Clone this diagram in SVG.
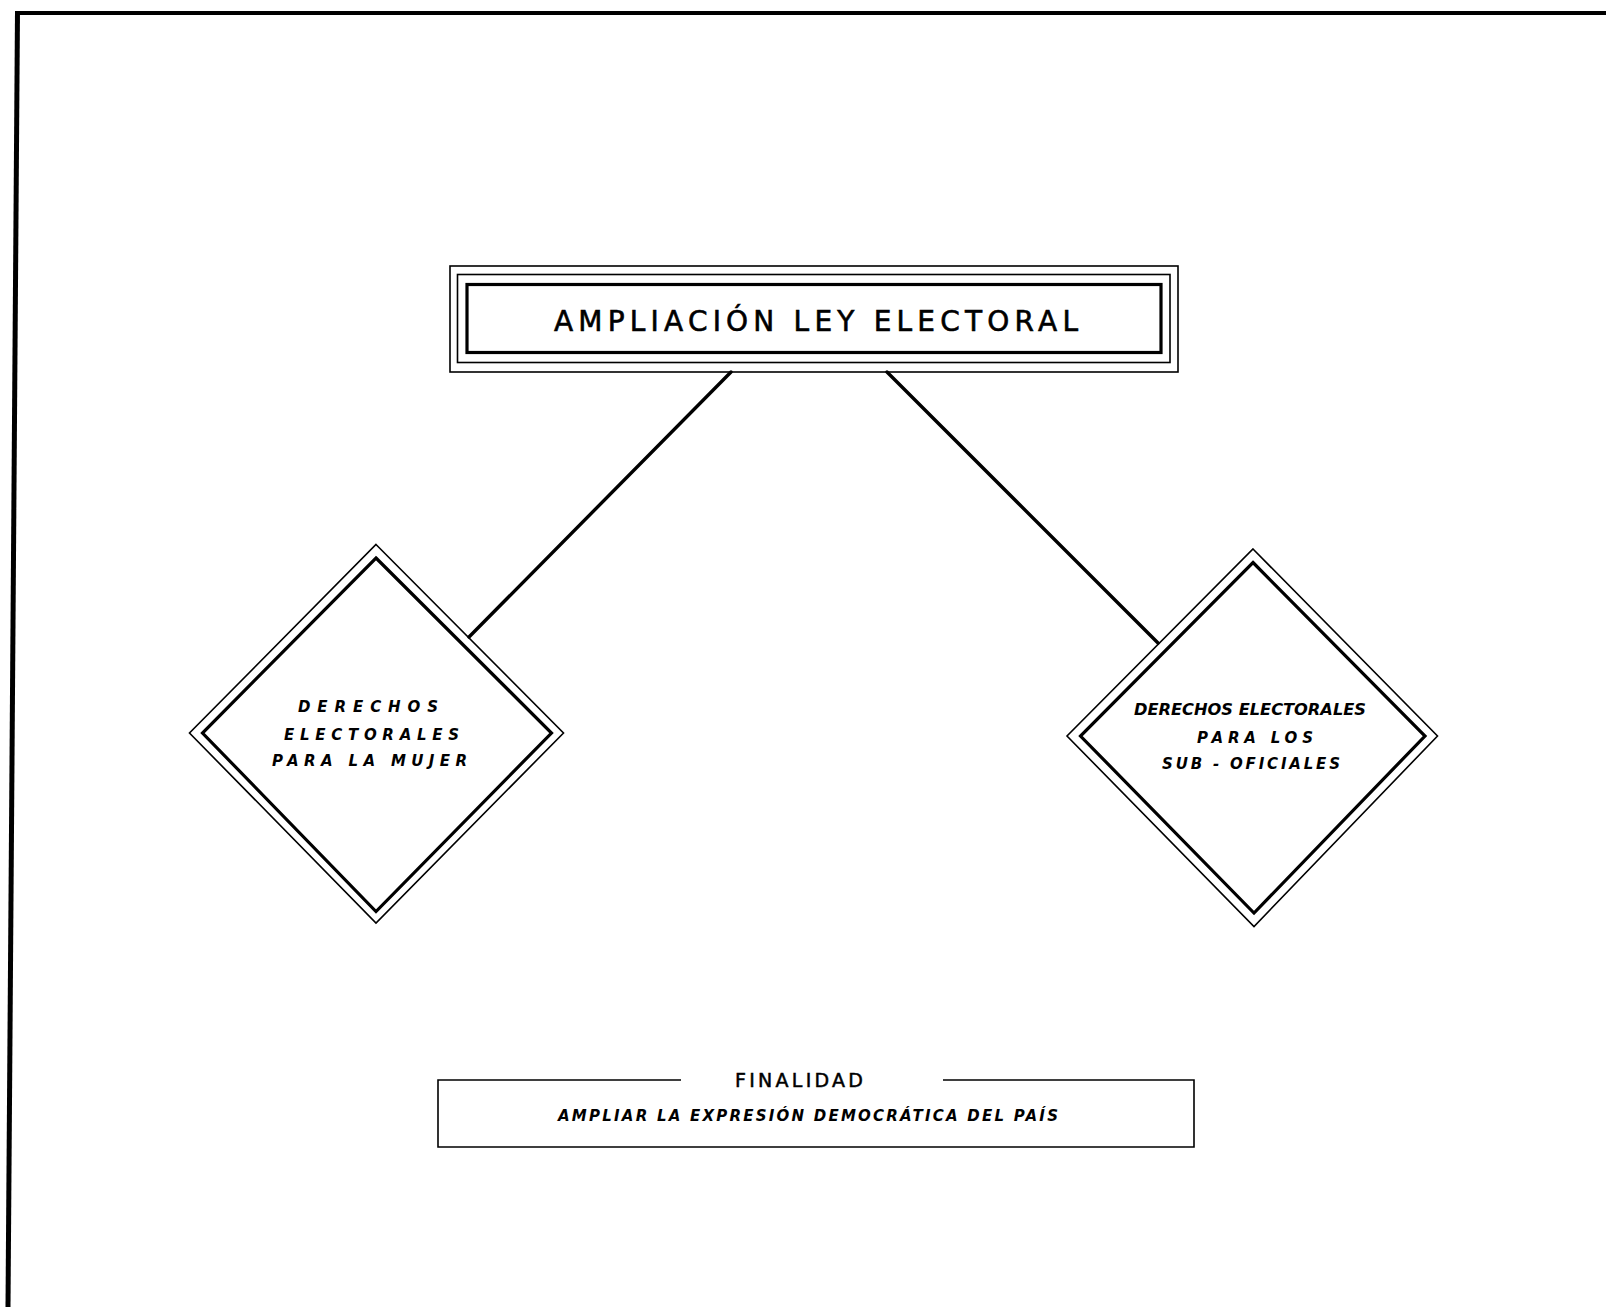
<svg xmlns="http://www.w3.org/2000/svg" width="1606" height="1307" viewBox="0 0 1606 1307">
<style>
.thin{fill:none;stroke:#000;stroke-width:1.6}
.thick{fill:none;stroke:#000;stroke-width:3.2}
.conn{fill:none;stroke:#000;stroke-width:3.4;stroke-linecap:round}
.title{font-family:"DejaVu Sans",Arial,sans-serif;font-size:28px;fill:#000;stroke:#000;stroke-width:0.6;text-anchor:middle}
.lbl{font-family:"DejaVu Sans",Arial,sans-serif;font-size:15px;font-style:italic;font-weight:bold;fill:#000;text-anchor:middle}
.fin{font-family:"DejaVu Sans",Arial,sans-serif;font-size:19px;fill:#000;stroke:#000;stroke-width:0.5;text-anchor:middle}
</style>
<rect width="1606" height="1307" fill="#fff"/>
<g id="frame">
<line x1="17" y1="13" x2="1606" y2="13" stroke="#000" stroke-width="4"/>
<line x1="17.5" y1="11" x2="8" y2="1307" stroke="#000" stroke-width="5"/>
</g>
<g id="connectors">
<line class="conn" x1="731" y1="372" x2="469" y2="637"/>
<line class="conn" x1="887" y1="372" x2="1158" y2="643"/>
</g>
<g id="title">
<rect class="thin" x="450" y="266" width="728" height="106"/>
<rect class="thin" x="457.5" y="274.5" width="712.5" height="88"/>
<rect class="thick" x="467" y="284.5" width="694" height="68"/>
<text class="title" x="816" y="331" textLength="524" lengthAdjust="spacing">AMPLIACIÓN LEY ELECTORAL</text>
</g>
<g id="mujer">
<polygon class="thin" points="376,544.5 563.5,733 376,923 189.5,733" fill="#fff"/>
<polygon class="thick" points="376,558 551.5,733 376,911.5 202.5,733"/>
<text class="lbl" x="368" y="712" textLength="140" lengthAdjust="spacing">DERECHOS</text>
<text class="lbl" x="371.5" y="740" textLength="175" lengthAdjust="spacing">ELECTORALES</text>
<text class="lbl" x="369.5" y="766" textLength="195" lengthAdjust="spacing">PARA LA MUJER</text>
</g>
<g id="suboficiales">
<polygon class="thin" points="1253,549 1437.5,736 1254,926.5 1067,736" fill="#fff"/>
<polygon class="thick" points="1253,562.5 1425,736 1254,913 1080.5,736"/>
<text class="lbl" x="1250" y="715" textLength="232" lengthAdjust="spacingAndGlyphs">DERECHOS ELECTORALES</text>
<text class="lbl" x="1255" y="743" textLength="116" lengthAdjust="spacing">PARA LOS</text>
<text class="lbl" x="1251" y="769" textLength="178" lengthAdjust="spacing">SUB - OFICIALES</text>
</g>
<g id="finalidad">
<polyline class="thin" stroke-width="2" points="681,1080 438,1080 438,1147 1194,1147 1194,1080 943,1080"/>
<text class="fin" x="799" y="1087" textLength="128" lengthAdjust="spacing">FINALIDAD</text>
<text class="lbl" x="808" y="1121" font-size="14" textLength="500" lengthAdjust="spacing">AMPLIAR LA EXPRESIÓN DEMOCRÁTICA DEL PAÍS</text>
</g>
</svg>
